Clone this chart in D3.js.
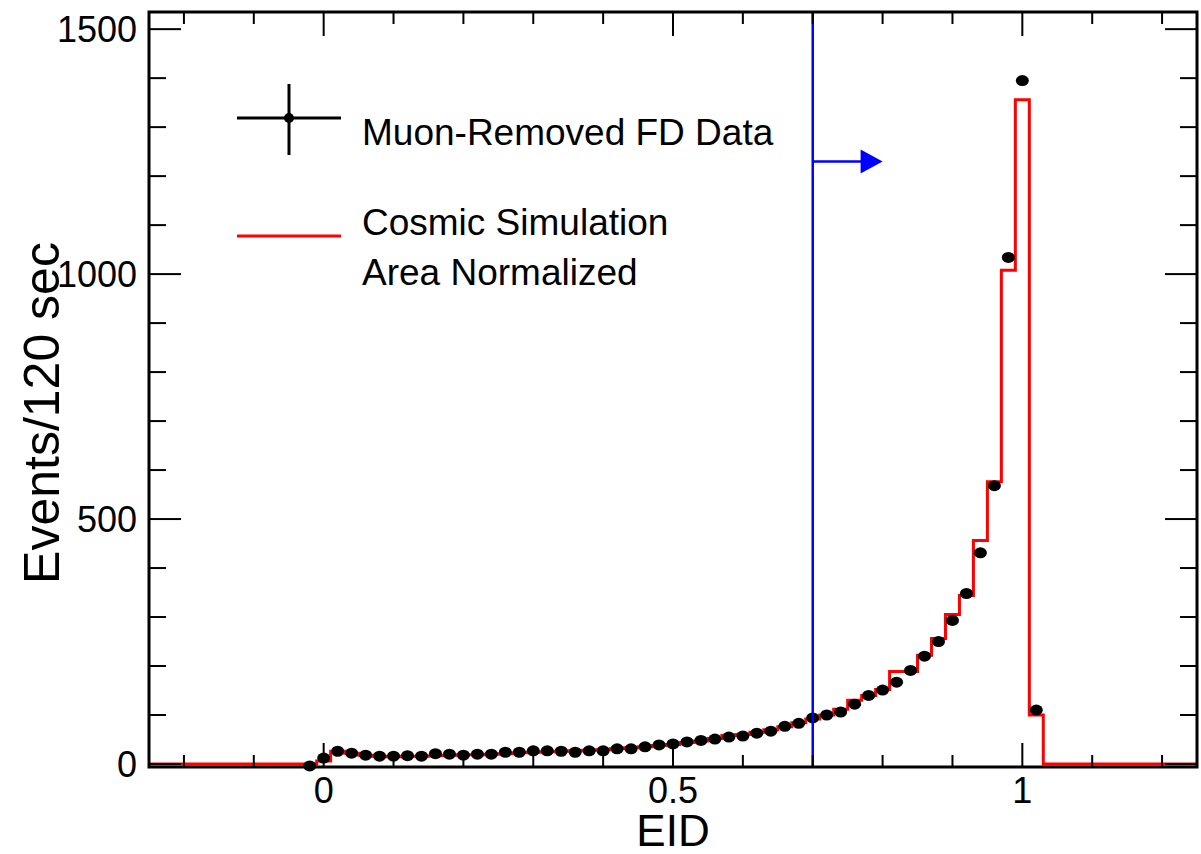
<!DOCTYPE html>
<html>
<head>
	<meta charset="utf-8">
	<title>EID</title>
	<script src="https://d3js.org/d3.v7.min.js"></script>
	<style>
		body { margin:0; background:#fff; }
		svg { display:block; font-family:"Liberation Sans", Arial, sans-serif; }
	</style>
</head>
<body>
	<svg></svg>
	<script type="text/javascript">

    // bin centres of the EID histogram (bin width 0.02)
    var binCenters = [-0.02, 0.00, 0.02, 0.04, 0.06, 0.08, 0.10, 0.12, 0.14, 0.16,
                      0.18, 0.20, 0.22, 0.24, 0.26, 0.28, 0.30, 0.32, 0.34, 0.36,
                      0.38, 0.40, 0.42, 0.44, 0.46, 0.48, 0.50, 0.52, 0.54, 0.56,
                      0.58, 0.60, 0.62, 0.64, 0.66, 0.68, 0.70, 0.72, 0.74, 0.76,
                      0.78, 0.80, 0.82, 0.84, 0.86, 0.88, 0.90, 0.92, 0.94, 0.96,
                      0.98, 1.00, 1.02];
    var binWidth = 0.02;

    // muon-removed FD data (points)
    var fdData = [-4, 12, 26, 22, 18, 16, 16, 17, 16, 21,
                  20, 18, 20, 20, 24, 24, 27, 27, 26, 24,
                  27, 27, 31, 31, 35, 39, 41, 45, 48, 51,
                  55, 57, 63, 67, 77, 83, 94, 100, 106, 122,
                  140, 151, 167, 191, 220, 250, 293, 348, 431, 568,
                  1034, 1395, 110];

    // cosmic simulation, area normalized (red histogram)
    var cosmicSim = [0, 6, 26, 22, 18, 16, 15, 16, 16, 17,
                     18, 19, 19, 20, 21, 23, 24, 25, 26, 27,
                     28, 29, 31, 33, 35, 38, 40, 44, 47, 52,
                     58, 60, 65, 70, 76, 84, 92, 100, 112, 130,
                     140, 152, 189, 189, 222, 256, 305, 344, 456, 576,
                     1008, 1356, 100];

    var xTickLabels = [0, 0.5, 1];
    var yTickLabels = [0, 500, 1000, 1500];
    var xRange = [-0.25, 1.25];
    var yMax = 1535;
    var eidCut = 0.7, arrowEnd = 0.8, arrowLevel = 1230;

    var W = 1201, H = 854;
    var padL = 149, padR = 1197, padT = 12, padB = 767;

    var x = d3.scaleLinear().domain(xRange).range([padL, padR]);
    var y = d3.scaleLinear().domain([0, yMax]).range([764, padT]);

    var svg = d3.select('svg').attr("width", W).attr("height", H);

    svg.append("defs").append("clipPath").attr("id", "plot")
      .append("rect").attr("x", padL).attr("y", padT)
      .attr("width", padR - padL).attr("height", padB - padT);

    /** red step histogram **/
    var histPts = [[xRange[0], 0]];
    binCenters.forEach(function(c, i) { histPts.push([c - binWidth / 2, cosmicSim[i]]); });
    histPts.push([binCenters[binCenters.length - 1] + binWidth / 2, 0]);
    histPts.push([xRange[1], 0]);

    svg.append("path")
      .datum(histPts)
      .attr("clip-path", "url(#plot)")
      .attr("d", d3.line().curve(d3.curveStepAfter)
          .x(function(d) { return x(d[0]); })
          .y(function(d) { return y(d[1]); }))
      .attr("fill", "none")
      .attr("stroke", "#ff0000")
      .attr("stroke-width", 3);

    /** data points **/
    svg.append("g").selectAll("ellipse")
      .data(binCenters)
      .join("ellipse")
      .attr("cx", function(d) { return x(d); })
      .attr("cy", function(d, i) { return y(fdData[i]); })
      .attr("rx", 6.5)
      .attr("ry", 5.5)
      .attr("fill", "#000");

    /** EID cut line with arrow **/
    svg.append("line")
      .attr("x1", x(eidCut)).attr("x2", x(eidCut))
      .attr("y1", padT).attr("y2", padB)
      .attr("stroke", "#0000ff").attr("stroke-width", 2.5);
    svg.append("line")
      .attr("x1", x(eidCut)).attr("x2", x(arrowEnd) - 15)
      .attr("y1", y(arrowLevel)).attr("y2", y(arrowLevel))
      .attr("stroke", "#0000ff").attr("stroke-width", 2.5);
    svg.append("path")
      .attr("d", "M" + (x(arrowEnd) - 22) + "," + (y(arrowLevel) - 12) +
                 "L" + x(arrowEnd) + "," + y(arrowLevel) +
                 "L" + (x(arrowEnd) - 22) + "," + (y(arrowLevel) + 12) + "Z")
      .attr("fill", "#0000ff");

    /** frame and ticks, ROOT style on all four sides **/
    var frame = svg.append("g").attr("stroke", "#000");
    frame.append("rect")
      .attr("x", padL).attr("y", padT)
      .attr("width", padR - padL).attr("height", padB - padT)
      .attr("fill", "none").attr("stroke-width", 3);

    var xMinor = d3.range(-2, 13).map(function(k) { return k / 10; });
    xMinor.forEach(function(v) {
      var major = xTickLabels.indexOf(v) >= 0;
      var len = major ? 24 : 12;
      frame.append("line").attr("x1", x(v)).attr("x2", x(v))
        .attr("y1", padB).attr("y2", padB - len).attr("stroke-width", 2);
      frame.append("line").attr("x1", x(v)).attr("x2", x(v))
        .attr("y1", padT).attr("y2", padT + len).attr("stroke-width", 2);
    });

    var yMinor = d3.range(0, 16).map(function(k) { return k * 100; });
    yMinor.forEach(function(v) {
      var major = yTickLabels.indexOf(v) >= 0;
      var len = major ? 32 : 17;
      frame.append("line").attr("x1", padL).attr("x2", padL + len)
        .attr("y1", y(v)).attr("y2", y(v)).attr("stroke-width", 2);
      frame.append("line").attr("x1", padR).attr("x2", padR - len)
        .attr("y1", y(v)).attr("y2", y(v)).attr("stroke-width", 2);
    });

    svg.append("g").selectAll("text")
      .data(xTickLabels)
      .join("text")
      .attr("x", function(d) { return x(d); })
      .attr("y", 803)
      .attr("text-anchor", "middle")
      .style("font-size", "36px")
      .text(function(d) { return d; });

    svg.append("g").selectAll("text")
      .data(yTickLabels)
      .join("text")
      .attr("x", 137)
      .attr("y", function(d) { return y(d) + 13; })
      .attr("text-anchor", "end")
      .style("font-size", "36px")
      .text(function(d) { return d; });

    svg.append("text")
      .attr("x", x(0.5)).attr("y", 846)
      .attr("text-anchor", "middle")
      .style("font-size", "44px")
      .text("EID");

    svg.append("text")
      .attr("transform", "translate(59,413) rotate(-90)")
      .attr("text-anchor", "middle")
      .style("font-size", "50px")
      .text("Events/120 sec");

    /** legend **/
    var lg = svg.append("g");
    lg.append("line").attr("x1", 237).attr("x2", 341).attr("y1", 118).attr("y2", 118)
      .attr("stroke", "#000").attr("stroke-width", 3);
    lg.append("line").attr("x1", 289).attr("x2", 289).attr("y1", 84).attr("y2", 155)
      .attr("stroke", "#000").attr("stroke-width", 3);
    lg.append("circle").attr("cx", 289).attr("cy", 118).attr("r", 5).attr("fill", "#000");
    lg.append("line").attr("x1", 237).attr("x2", 341).attr("y1", 236).attr("y2", 236)
      .attr("stroke", "#ff0000").attr("stroke-width", 3);

    lg.append("text").attr("x", 362).attr("y", 145).style("font-size", "37px")
      .text("Muon-Removed FD Data");
    lg.append("text").attr("x", 362).attr("y", 235).style("font-size", "37px")
      .text("Cosmic Simulation");
    lg.append("text").attr("x", 362).attr("y", 285).style("font-size", "37px")
      .text("Area Normalized");
    </script>
</body>
</html>
